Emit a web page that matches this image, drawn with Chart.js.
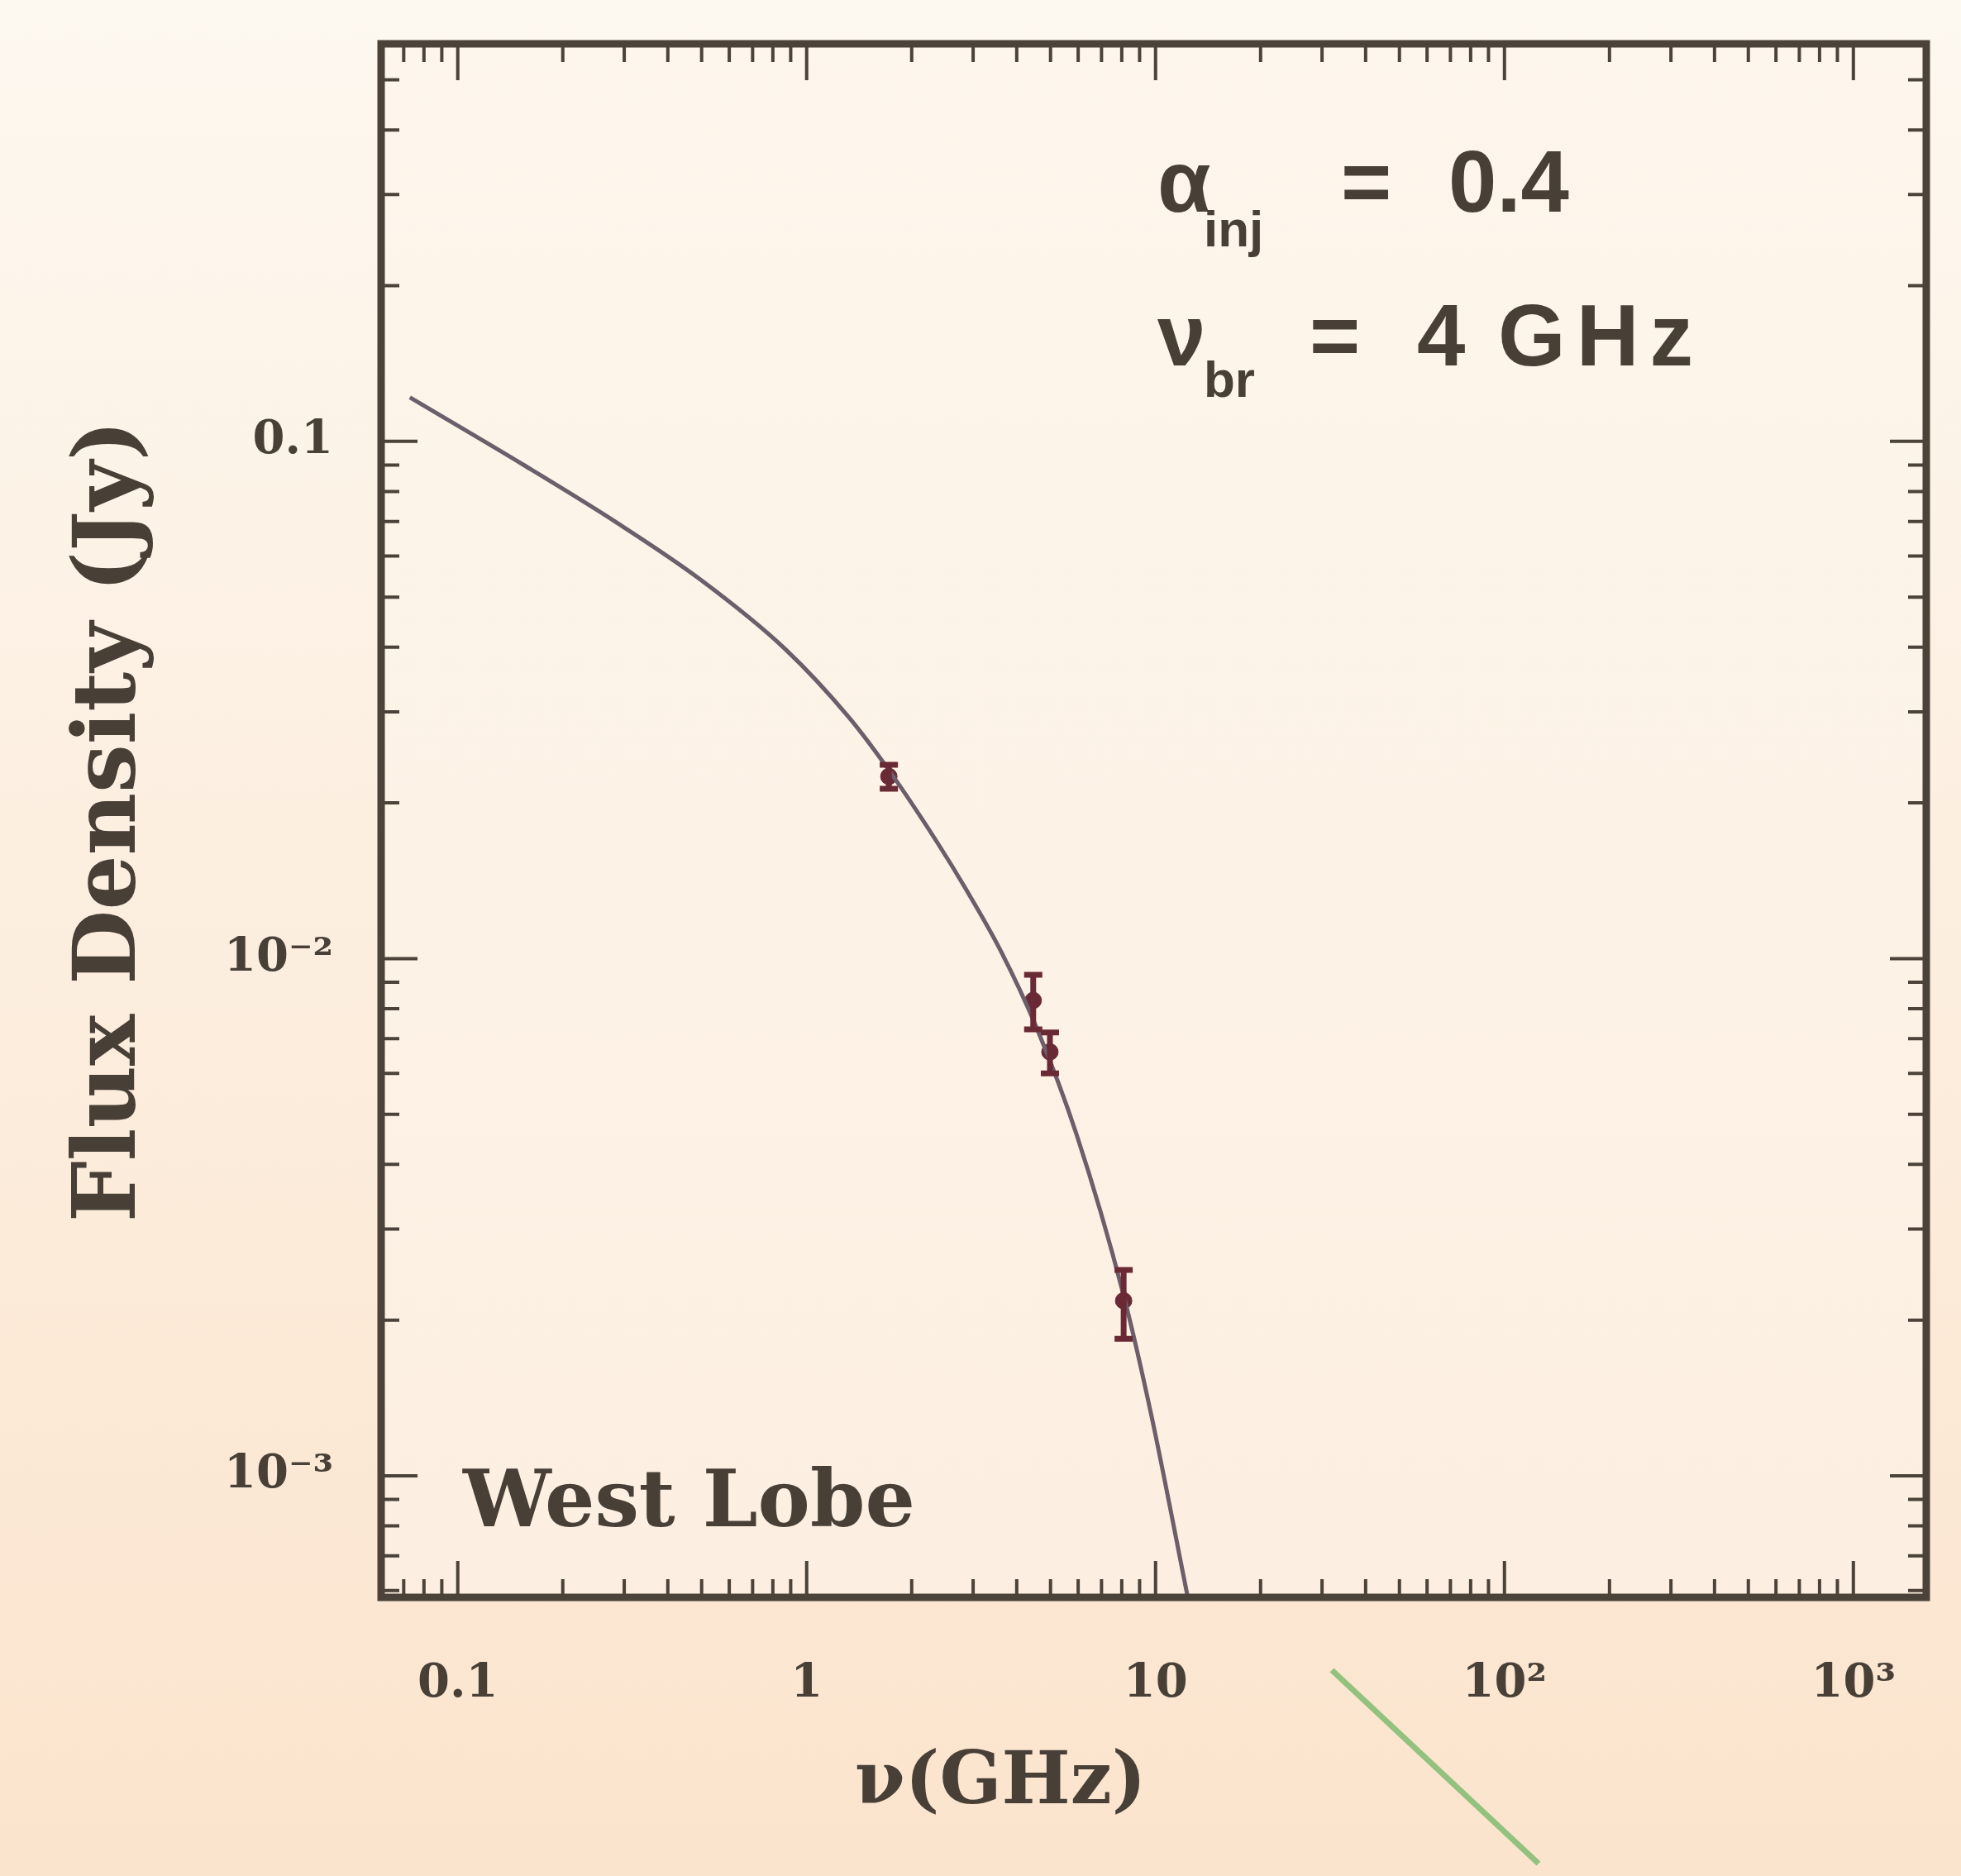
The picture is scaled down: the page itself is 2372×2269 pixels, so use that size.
<!DOCTYPE html>
<html>
<head>
<meta charset="utf-8">
<script src="https://cdn.jsdelivr.net/npm/chart.js@4.4.1/dist/chart.umd.min.js"></script>
<style>
	html, body { margin: 0; padding: 0; background: #fdf5ea; }
	#wrap { width: 2372px; height: 2269px; position: relative; }
</style>
</head>
<body>
<div id="wrap"><canvas id="myChart"></canvas></div>
<script>
// model spectrum
const curveFreq = [0.0729, 0.155, 0.285, 0.497, 0.867, 1.32, 1.70, 2.37, 2.85, 3.6, 4.56, 5.93, 8.09, 9.7, 12.4]
const curveFlux = [0.1216, 0.0899, 0.0697, 0.0540, 0.0397, 0.0293, 0.0234, 0.01675, 0.01368, 0.01035, 0.00735, 0.00458, 0.00224, 0.00132, 0.000577]

// measured points with error bars
const obsFreq = [1.72, 4.46, 4.98, 8.1]
const obsFlux = [0.0225, 0.0083, 0.0066, 0.00218]
const obsLow = [0.0213, 0.0073, 0.0060, 0.00184]
const obsHigh = [0.0237, 0.0093, 0.0072, 0.00250]

const xTicks = [0.1, 1, 10, 100, 1000]
const xTickLabels = ['0.1', '1', '10', '10²', '10³']
const yTicks = [0.001, 0.01, 0.1]
const yTickLabels = ['10⁻³', '10⁻²', '0.1']

const ink = '#483f37'
const serif = "'DejaVu Serif', serif"
const sans = "'Liberation Sans', Arial, sans-serif"

const decor = {
	id: 'decor',
	beforeDraw(chart) {
		const c = chart.ctx
		const a = chart.chartArea
		c.save()
		let g = c.createLinearGradient(0, 0, 0, chart.height)
		g.addColorStop(0, '#fdf8f0')
		g.addColorStop(1, '#fbe4cd')
		c.fillStyle = g
		c.fillRect(0, 0, chart.width, chart.height)
		g = c.createLinearGradient(0, a.top, 0, a.bottom)
		g.addColorStop(0, '#fdf6ec')
		g.addColorStop(1, '#fcefe1')
		c.fillStyle = g
		c.fillRect(a.left, a.top, a.right - a.left, a.bottom - a.top)
		c.restore()
	},
	afterDatasetsDraw(chart) {
		const c = chart.ctx
		const xs = chart.scales.x
		const ys = chart.scales.y
		c.save()
		c.strokeStyle = '#6a2a35'
		c.lineWidth = 7
		for (let i = 0; i < obsFreq.length; i++) {
			const px = xs.getPixelForValue(obsFreq[i])
			const y1 = ys.getPixelForValue(obsLow[i])
			const y2 = ys.getPixelForValue(obsHigh[i])
			c.beginPath()
			c.moveTo(px, y1)
			c.lineTo(px, y2)
			c.moveTo(px - 11, y1)
			c.lineTo(px + 11, y1)
			c.moveTo(px - 11, y2)
			c.lineTo(px + 11, y2)
			c.stroke()
		}
		c.restore()
	},
	afterDraw(chart) {
		const c = chart.ctx
		const a = chart.chartArea
		const xs = chart.scales.x
		const ys = chart.scales.y
		c.save()
		c.strokeStyle = '#4b4239'
		// inside ticks on all four sides
		c.lineWidth = 4
		for (let k = -2; k <= 3; k++) {
			for (let m = 1; m <= 9; m++) {
				const v = m * Math.pow(10, k)
				const len = m === 1 ? 44 : 22
				if (v > xs.min && v < xs.max) {
					const px = xs.getPixelForValue(v)
					c.beginPath()
					c.moveTo(px, a.bottom)
					c.lineTo(px, a.bottom - len)
					c.moveTo(px, a.top)
					c.lineTo(px, a.top + len)
					c.stroke()
				}
			}
		}
		for (let k = -4; k <= 0; k++) {
			for (let m = 1; m <= 9; m++) {
				const v = m * Math.pow(10, k)
				const len = m === 1 ? 44 : 22
				if (v > ys.min && v < ys.max) {
					const py = ys.getPixelForValue(v)
					c.beginPath()
					c.moveTo(a.left, py)
					c.lineTo(a.left + len, py)
					c.moveTo(a.right, py)
					c.lineTo(a.right - len, py)
					c.stroke()
				}
			}
		}
		c.lineWidth = 9
		c.strokeRect(a.left, a.top, a.right - a.left, a.bottom - a.top)

		// axis titles
		c.fillStyle = ink
		c.textAlign = 'center'
		c.textBaseline = 'middle'
		c.font = 'bold 88px ' + serif
		c.fillText('ν(GHz)', 1210, 2158)
		c.save()
		c.translate(136, 993)
		c.rotate(-Math.PI / 2)
		c.font = 'bold 104px ' + serif
		c.fillText('Flux Density (Jy)', 0, 0)
		c.restore()

		// labels inside the plot
		c.textAlign = 'left'
		c.textBaseline = 'alphabetic'
		c.font = 'bold 95px ' + serif
		c.fillText('West Lobe', 560, 1846)

		c.font = 'bold 105px ' + sans
		c.fillText('α', 1400, 256)
		c.fillText('=', 1622, 256)
		c.fillText('0.4', 1752, 256)
		c.fillText('ν', 1400, 442)
		c.fillText('=', 1584, 442)
		c.fillText('4', 1714, 442)
		c.letterSpacing = '13px'
		c.fillText('GHz', 1812, 442)
		c.letterSpacing = '0px'
		c.font = 'bold 62px ' + sans
		c.fillText('inj', 1456, 298)
		c.fillText('br', 1456, 480)

		// stray green stroke below the axis
		c.strokeStyle = '#93c27f'
		c.lineWidth = 7
		c.beginPath()
		c.moveTo(1611, 2020)
		c.lineTo(1861, 2254)
		c.stroke()
		c.restore()
	},
}

const ctx = document.getElementById('myChart')

const myChart = new Chart(ctx, {
	type: 'scatter',
	data: {
		datasets: [
			{
				label: 'model',
				data: curveFreq.map((f, i) => ({ x: f, y: curveFlux[i] })),
				showLine: true,
				borderColor: '#6c5e6a',
				borderWidth: 5,
				pointRadius: 0,
				cubicInterpolationMode: 'monotone',
			},
			{
				label: 'West Lobe',
				data: obsFreq.map((f, i) => ({ x: f, y: obsFlux[i] })),
				backgroundColor: '#6a2a35',
				borderColor: '#6a2a35',
				pointRadius: 10,
			},
		],
	},
	options: {
		responsive: true,
		maintainAspectRatio: false,
		animation: false,
		layout: {
			padding: { top: 53, right: 42, left: 0, bottom: 0 },
		},
		plugins: {
			legend: { display: false },
			tooltip: { enabled: false },
		},
		scales: {
			x: {
				type: 'logarithmic',
				min: 0.0603,
				max: 1618,
				afterFit(scale) {
					scale.height = 337
					scale.paddingLeft = 0
					scale.paddingRight = 0
				},
				afterBuildTicks(scale) { scale.ticks = xTicks.map(v => ({ value: v })) },
				grid: { display: false, drawTicks: false },
				border: { display: false },
				ticks: {
					padding: 72,
					color: ink,
					maxRotation: 0,
					autoSkip: false,
					font: { family: serif, weight: 'bold', size: 56 },
					callback: (v) => xTickLabels[xTicks.indexOf(v)],
				},
			},
			y: {
				type: 'logarithmic',
				min: 0.000582,
				max: 0.587,
				afterFit(scale) {
					scale.width = 461
					scale.paddingTop = 0
					scale.paddingBottom = 0
				},
				afterBuildTicks(scale) { scale.ticks = yTicks.map(v => ({ value: v })) },
				grid: { display: false, drawTicks: false },
				border: { display: false },
				ticks: {
					padding: 58,
					color: ink,
					autoSkip: false,
					font: { family: serif, weight: 'bold', size: 56 },
					callback: (v) => yTickLabels[yTicks.indexOf(v)],
				},
			},
		},
	},
	plugins: [decor],
})
</script>
</body>
</html>
